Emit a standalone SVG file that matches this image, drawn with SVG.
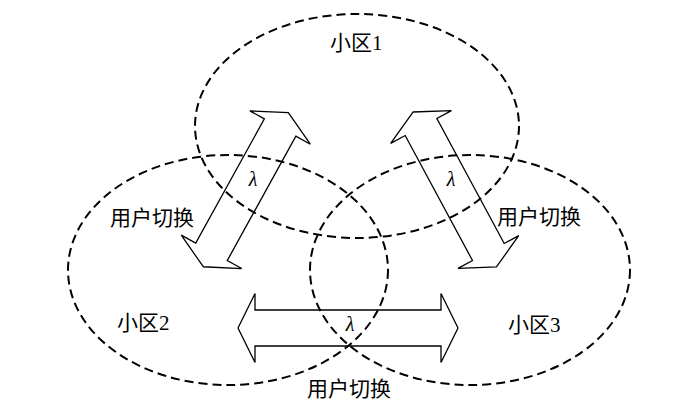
<svg xmlns="http://www.w3.org/2000/svg" width="700" height="404" viewBox="0 0 700 404">
<defs>
<style>
.cell{fill:none;stroke:#000;stroke-width:2;stroke-dasharray:9 5}
.arr{fill:none;stroke:#000;stroke-width:1.3;stroke-linejoin:miter}
.t{font-family:"Liberation Serif","Noto Sans CJK SC",serif;font-size:21px;fill:#000}
.lam{font-family:"Liberation Serif",serif;font-style:italic;font-size:20px;fill:#000;text-anchor:middle}
</style>
<polygon id="dbl" points="-88,0 -71,-34.5 -71,-18 71,-18 71,-34.5 88,0 71,34.5 71,18 -71,18 -71,34.5"/>
</defs>
<rect width="700" height="404" fill="#fff"/>
<g id="cell1"><ellipse class="cell" cx="357" cy="126" rx="162" ry="112"/><text class="t" x="330" y="50">小区1</text></g>
<g id="cell2"><ellipse class="cell" cx="228" cy="270" rx="160" ry="115"/><text class="t" x="117" y="330">小区2</text></g>
<g id="cell3"><ellipse class="cell" cx="470" cy="270" rx="160" ry="115"/><text class="t" x="508" y="332">小区3</text></g>
<g id="connectors">
<use href="#dbl" class="arr" transform="translate(245.8,189.7) rotate(-61.1)"/>
<use href="#dbl" class="arr" transform="translate(454.7,189.5) rotate(61.7)"/>
<polygon class="arr" points="238,328 255,293.5 255,310 441,310 441,293.5 458,328 441,362.5 441,346 255,346 255,362.5"/>
<text class="lam" x="253" y="186">λ</text>
<text class="lam" x="451" y="186">λ</text>
<text class="lam" x="350" y="331">λ</text>
<text class="t" x="110" y="225">用户切换</text>
<text class="t" x="497" y="224">用户切换</text>
<text class="t" x="307" y="396">用户切换</text>
</g>
</svg>
